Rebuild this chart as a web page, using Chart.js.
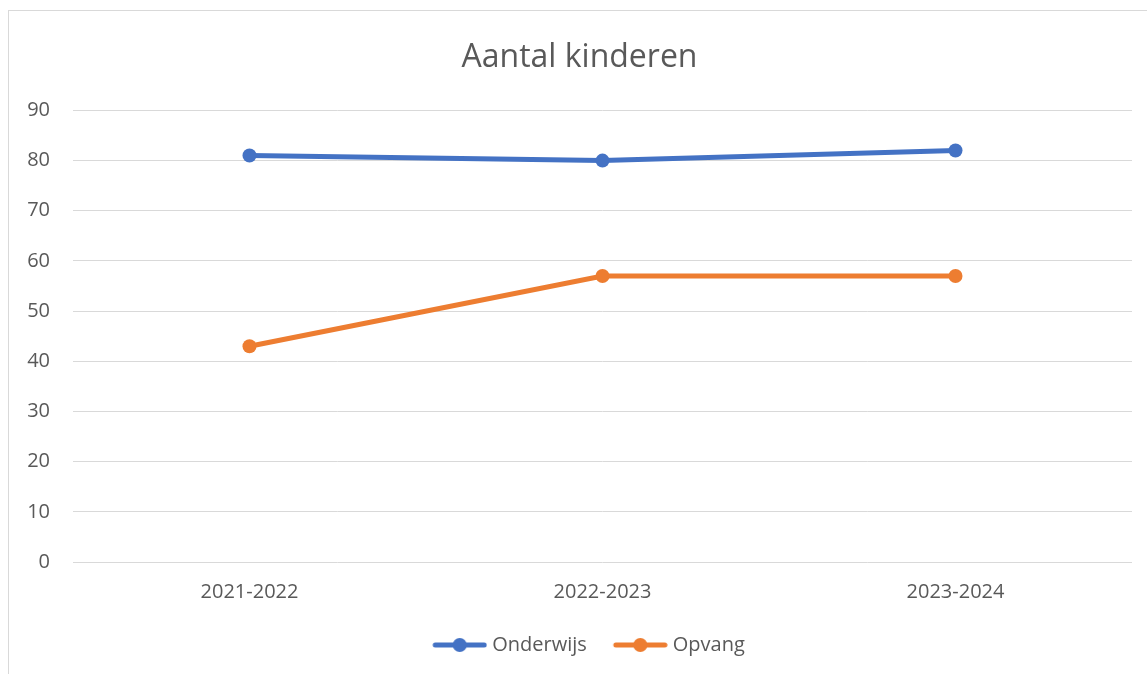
<!DOCTYPE html>
<html>
<head>
<meta charset="utf-8">
<script src="https://cdn.jsdelivr.net/npm/chart.js@4.4.0/dist/chart.umd.min.js"></script>
<style>
  html, body { margin: 0; padding: 0; background: #fff; }
  #wrap { position: relative; width: 1147px; height: 674px; overflow: hidden; }
  #frame { position: absolute; left: 8px; top: 10px; width: 1160px; height: 700px; border: 1px solid #d9d9d9; box-sizing: border-box; }
  canvas { position: absolute; left: 0; top: 0; }
</style>
</head>
<body>
<div id="wrap">
  <div id="frame"></div>
  <canvas id="c" width="1147" height="674"></canvas>
</div>
<script>
const categories = ['2021-2022', '2022-2023', '2023-2024'];
const onderwijs = [81, 80, 82];
const opvang = [43, 57, 57];
const yTicks = [0, 10, 20, 30, 40, 50, 60, 70, 80, 90];

const BLUE = '#4472C4';
const ORANGE = '#ED7D31';
const TEXT = '#595959';
const FONT = "'Open Sans', 'Noto Sans', sans-serif";

function legendIcon(color) {
  const cv = document.createElement('canvas');
  cv.width = 78; cv.height = 16;
  const g = cv.getContext('2d');
  g.strokeStyle = color; g.lineWidth = 5; g.lineCap = 'round';
  g.beginPath(); g.moveTo(26, 8); g.lineTo(75, 8); g.stroke();
  g.fillStyle = color;
  g.beginPath(); g.arc(50.5, 8, 7, 0, Math.PI * 2); g.fill();
  return cv;
}

new Chart(document.getElementById('c'), {
  type: 'line',
  data: {
    labels: categories,
    datasets: [
      { label: 'Onderwijs', data: onderwijs, borderColor: BLUE, backgroundColor: BLUE,
        borderWidth: 5, pointRadius: 7, pointHoverRadius: 7, pointBackgroundColor: BLUE,
        pointBorderWidth: 0, pointStyle: 'circle', tension: 0, legendIcon: legendIcon(BLUE) },
      { label: 'Opvang', data: opvang, borderColor: ORANGE, backgroundColor: ORANGE,
        borderWidth: 5, pointRadius: 7, pointHoverRadius: 7, pointBackgroundColor: ORANGE,
        pointBorderWidth: 0, pointStyle: 'circle', tension: 0, legendIcon: legendIcon(ORANGE) }
    ]
  },
  options: {
    responsive: false,
    animation: false,
    layout: { padding: { left: 27, right: 15, top: 39, bottom: 9 } },
    plugins: {
      title: {
        display: true, text: 'Aantal kinderen', color: TEXT,
        font: { family: FONT, size: 32, weight: 'normal' },
        padding: { top: 0, bottom: 33 }
      },
      legend: {
        position: 'bottom',
        labels: {
          color: TEXT, font: { family: FONT, size: 20 },
          usePointStyle: true, pointStyleWidth: 68, boxHeight: 16, padding: 8,
          generateLabels: (chart) => chart.data.datasets.map((ds, i) => ({
            text: ds.label, fontColor: TEXT, pointStyle: ds.legendIcon,
            datasetIndex: i, lineWidth: 0, strokeStyle: ds.borderColor, fillStyle: ds.borderColor
          }))
        }
      },
      tooltip: { enabled: false }
    },
    scales: {
      x: {
        offset: true,
        grid: { display: false, drawTicks: false },
        border: { display: false },
        afterFit: (s) => { s.height += 5; },
        ticks: { color: TEXT, font: { family: FONT, size: 20 }, padding: 18 }
      },
      y: {
        min: 0, max: 90,
        afterBuildTicks: (s) => { s.ticks = yTicks.map(v => ({ value: v })); },
        afterFit: (s) => { s.width = 46; },
        grid: { color: '#d9d9d9', lineWidth: 1, drawTicks: false },
        border: { display: false },
        ticks: { color: TEXT, font: { family: FONT, size: 20 }, padding: 23 }
      }
    }
  }
});
</script>
</body>
</html>
